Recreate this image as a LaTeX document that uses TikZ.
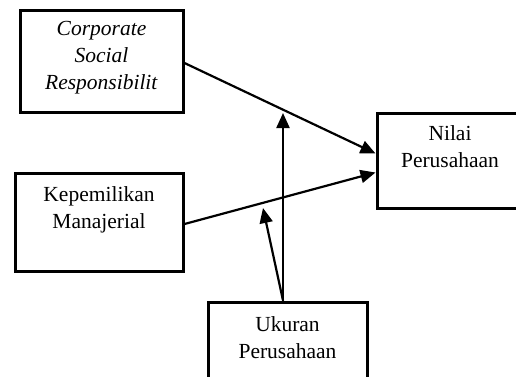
\documentclass[tikz,border=0pt]{standalone}
\usepackage{fontspec}
\setmainfont{Liberation Serif}
\usetikzlibrary{arrows.meta,positioning}

\begin{document}
\begin{tikzpicture}[x=1pt, y=-1pt,
    box/.style={draw, line width=3pt, inner sep=0pt},
    txt/.style={font=\fontsize{21.5}{27}\selectfont, align=center, inner sep=0pt},
    link/.style={line width=2.2pt, -{Triangle[length=15pt,width=13pt]}}]
    \clip (0,0) rectangle (516,376);

    % Variable boxes
    \node[box, minimum width=163pt, minimum height=102pt] (csr) at (101.5,61) {};
    \node[box, minimum width=168pt, minimum height=98pt] (kep) at (99,222) {};
    \node[box, minimum width=146pt, minimum height=95pt] (nilai) at (450,160.5) {};
    \node[box, minimum width=159pt, minimum height=83pt] (ukuran) at (287.5,343.5) {};

    % Box texts
    \node[txt, below=13pt] (csrtxt) at (csr.north) {\textit{Corporate}\\\textit{Social}\\\textit{Responsibilit}};
    \node[txt, below=15pt] (keptxt) at (kep.north) {Kepemilikan\\Manajerial};
    \node[txt, below=14pt] (nilaitxt) at (nilai.north) {Nilai\\Perusahaan};
    \node[txt, below=16pt] (ukurantxt) at (ukuran.north) {Ukuran\\Perusahaan};

    % Arrow ends below the two paths
    \coordinate (modtop) at (283,113);
    \coordinate (modmid) at (263,208);

    % Paths
    \draw[link] ([yshift=-2pt]csr.east) -- ([yshift=7pt]nilai.west);
    \draw[link] ([yshift=-2pt]kep.east) -- ([yshift=-12pt]nilai.west);
    \draw[link] ([xshift=-4.5pt]ukuran.north) -- (modtop);
    \draw[link] ([xshift=-4.5pt]ukuran.north) -- (modmid);
\end{tikzpicture}
\end{document}
